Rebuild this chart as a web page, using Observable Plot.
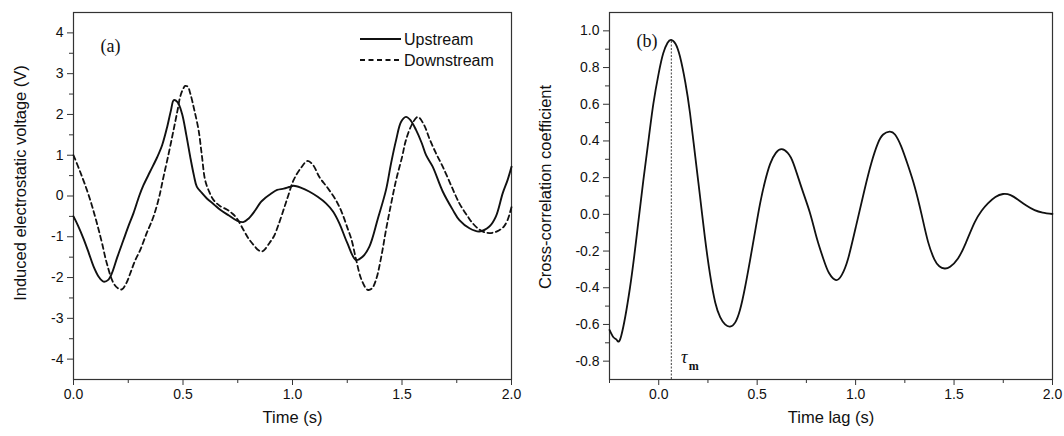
<!DOCTYPE html>
<html><head><meta charset="utf-8">
<script src="https://cdn.jsdelivr.net/npm/d3@7"></script>
<script src="https://cdn.jsdelivr.net/npm/@observablehq/plot@0.6"></script>
<style>
body{margin:0;background:#fff;}
#wrap{position:relative;width:1064px;height:436px;display:flex;}
#legend{position:absolute;left:0;top:0;pointer-events:none;}
</style></head><body>
<div id="wrap"></div>
<script>
// ---- Panel (a): induced electrostatic voltage ----
const upT = [0, 0.02, 0.046, 0.07, 0.091, 0.115, 0.137, 0.16, 0.175, 0.2, 0.228, 0.25, 0.274, 0.3, 0.32, 0.35, 0.382, 0.405, 0.428, 0.445, 0.458, 0.475, 0.495, 0.515, 0.533, 0.55, 0.563, 0.585, 0.609, 0.64, 0.67, 0.71, 0.745, 0.775, 0.8, 0.83, 0.855, 0.875, 0.9, 0.93, 0.96, 0.985, 1.005, 1.04, 1.076, 1.115, 1.153, 1.185, 1.214, 1.25, 1.29, 1.32, 1.351, 1.39, 1.427, 1.45, 1.473, 1.496, 1.518, 1.54, 1.564, 1.59, 1.61, 1.64, 1.686, 1.732, 1.762, 1.808, 1.853, 1.899, 1.929, 1.96, 1.982, 2.0];
const upV = [-0.5, -0.72, -1.05, -1.4, -1.72, -1.98, -2.1, -2.05, -1.9, -1.5, -1.08, -0.75, -0.42, 0.0, 0.27, 0.6, 0.95, 1.25, 1.7, 2.1, 2.35, 2.3, 2.03, 1.5, 0.96, 0.5, 0.23, 0.08, -0.06, -0.2, -0.34, -0.48, -0.6, -0.64, -0.55, -0.35, -0.15, -0.05, 0.05, 0.15, 0.18, 0.22, 0.25, 0.2, 0.11, -0.02, -0.18, -0.38, -0.67, -1.15, -1.57, -1.49, -1.24, -0.55, 0.15, 0.8, 1.37, 1.82, 1.94, 1.85, 1.62, 1.3, 1.0, 0.72, 0.11, -0.34, -0.59, -0.79, -0.87, -0.75, -0.5, 0.07, 0.39, 0.72];
const downT = [0, 0.03, 0.061, 0.085, 0.107, 0.13, 0.152, 0.183, 0.205, 0.221, 0.24, 0.259, 0.28, 0.305, 0.335, 0.365, 0.39, 0.411, 0.435, 0.457, 0.475, 0.487, 0.5, 0.51, 0.522, 0.533, 0.552, 0.571, 0.586, 0.601, 0.62, 0.64, 0.67, 0.70, 0.725, 0.746, 0.777, 0.8, 0.822, 0.845, 0.86, 0.875, 0.895, 0.914, 0.935, 0.959, 0.98, 1.005, 1.04, 1.069, 1.095, 1.122, 1.16, 1.198, 1.225, 1.252, 1.27, 1.29, 1.315, 1.343, 1.362, 1.381, 1.405, 1.427, 1.45, 1.473, 1.5, 1.518, 1.545, 1.572, 1.6, 1.625, 1.655, 1.686, 1.725, 1.762, 1.8, 1.823, 1.855, 1.884, 1.915, 1.944, 1.965, 1.982, 2.0];
const downV = [1.0, 0.6, 0.15, -0.25, -0.67, -1.15, -1.65, -2.14, -2.27, -2.29, -2.15, -1.9, -1.6, -1.32, -0.9, -0.51, -0.05, 0.47, 1.05, 1.62, 2.1, 2.43, 2.62, 2.7, 2.68, 2.52, 2.1, 1.62, 1.0, 0.39, 0.1, -0.1, -0.25, -0.33, -0.43, -0.55, -0.84, -1.05, -1.2, -1.33, -1.36, -1.3, -1.15, -1.0, -0.72, -0.34, 0.0, 0.39, 0.7, 0.86, 0.75, 0.47, 0.2, -0.1, -0.4, -0.8, -1.08, -1.55, -2.05, -2.30, -2.27, -2.06, -1.5, -0.83, -0.2, 0.39, 0.95, 1.37, 1.75, 1.94, 1.75, 1.41, 1.05, 0.72, 0.25, -0.18, -0.5, -0.67, -0.83, -0.90, -0.9, -0.84, -0.75, -0.59, -0.27];
const seriesNames = ["Upstream", "Downstream"];
const xTicksA = [0, 0.5, 1.0, 1.5, 2.0];
const xMinorA = [0.25, 0.75, 1.25, 1.75];
const yTicksA = [-4, -3, -2, -1, 0, 1, 2, 3, 4];
const yMinorA = [-3.5, -2.5, -1.5, -0.5, 0.5, 1.5, 2.5, 3.5];

// ---- Panel (b): cross-correlation ----
const lag = [-0.25, -0.23, -0.212, -0.19, -0.146, -0.11, -0.078, -0.05, -0.027, 0.0, 0.023, 0.045, 0.063, 0.085, 0.108, 0.135, 0.159, 0.185, 0.21, 0.235, 0.261, 0.287, 0.312, 0.337, 0.362, 0.388, 0.413, 0.438, 0.464, 0.49, 0.515, 0.54, 0.566, 0.595, 0.625, 0.655, 0.684, 0.727, 0.769, 0.803, 0.837, 0.865, 0.901, 0.93, 0.961, 1.003, 1.045, 1.08, 1.113, 1.14, 1.172, 1.2, 1.232, 1.265, 1.3, 1.335, 1.368, 1.40, 1.425, 1.452, 1.48, 1.52, 1.56, 1.604, 1.64, 1.672, 1.71, 1.749, 1.787, 1.825, 1.867, 1.909, 1.95, 2.0];
const corr = [-0.63, -0.67, -0.686, -0.66, -0.4, -0.1, 0.187, 0.42, 0.605, 0.77, 0.878, 0.935, 0.951, 0.93, 0.86, 0.72, 0.551, 0.32, 0.096, -0.13, -0.33, -0.48, -0.56, -0.6, -0.612, -0.59, -0.52, -0.4, -0.249, -0.09, 0.06, 0.18, 0.275, 0.335, 0.355, 0.335, 0.278, 0.14, 0.005, -0.13, -0.245, -0.32, -0.358, -0.33, -0.245, -0.06, 0.133, 0.28, 0.387, 0.435, 0.451, 0.435, 0.369, 0.27, 0.151, 0.0, -0.15, -0.245, -0.283, -0.295, -0.285, -0.24, -0.155, -0.045, 0.02, 0.06, 0.095, 0.111, 0.105, 0.08, 0.048, 0.023, 0.01, 0.002];
const tauM = 0.064;
const tauPeak = 0.951;
const xTicksB = [0, 0.5, 1.0, 1.5, 2.0];
const xMinorB = [-0.25, 0.25, 0.75, 1.25, 1.75];
const yTicksB = [-0.8, -0.6, -0.4, -0.2, 0.0, 0.2, 0.4, 0.6, 0.8, 1.0];
const yMinorB = [-0.7, -0.5, -0.3, -0.1, 0.1, 0.3, 0.5, 0.7, 0.9];

const up = upT.map((t, i) => ({t, v: upV[i]}));
const down = downT.map((t, i) => ({t, v: downV[i]}));
const cc = lag.map((l, i) => ({l, r: corr[i]}));

const sans = '"Liberation Sans", Arial, sans-serif';
const serif = '"Liberation Serif", "Times New Roman", serif';
const ink = "#111";
const blank = () => "";

function axes(xMajor, xMinor, yMajor, yMinor, fx, fy) {
  return [
    Plot.axisX(xMajor, {tickSize: 6, tickPadding: 4, tickFormat: fx, label: null, fontSize: 14, stroke: "#333"}),
    Plot.axisX(xMinor, {tickSize: 4, tickFormat: blank, label: null, stroke: "#333"}),
    Plot.axisY(yMajor, {tickSize: 6, tickPadding: 4, tickFormat: fy, label: null, fontSize: 14, stroke: "#333"}),
    Plot.axisY(yMinor, {tickSize: 4, tickFormat: blank, label: null, stroke: "#333"}),
    Plot.frame({stroke: "#333", strokeWidth: 1.2})
  ];
}

const plotA = Plot.plot({
  width: 532, height: 436,
  marginLeft: 73, marginRight: 21, marginTop: 12, marginBottom: 57,
  style: {fontFamily: sans, fontSize: "14px", color: ink, background: "white", overflow: "visible"},
  x: {domain: [0, 2], label: null},
  y: {domain: [-4.5, 4.5], label: null},
  marks: [
    ...axes(xTicksA, xMinorA, yTicksA, yMinorA, d => d.toFixed(1), d => String(d)),
    Plot.line(down, {x: "t", y: "v", curve: "catmull-rom", stroke: ink, strokeWidth: 1.8, strokeDasharray: "5,3.5"}),
    Plot.line(up, {x: "t", y: "v", curve: "catmull-rom", stroke: ink, strokeWidth: 1.9}),
    Plot.text(["(a)"], {frameAnchor: "top-left", dx: 27, dy: 27, text: d => d, fontFamily: serif, fontSize: 18, textAnchor: "start", fill: ink}),
    Plot.text(["Induced electrostatic voltage (V)"], {frameAnchor: "left", rotate: -90, textAnchor: "middle", dx: -53, dy: -13, text: d => d, fontSize: 16.5, fill: ink}),
    Plot.text(["Time (s)"], {frameAnchor: "bottom", dy: 43, text: d => d, fontSize: 16.5, fill: ink})
  ]
});

const plotB = Plot.plot({
  width: 532, height: 436,
  marginLeft: 77, marginRight: 12, marginTop: 12, marginBottom: 57,
  style: {fontFamily: sans, fontSize: "14px", color: ink, background: "white", overflow: "visible"},
  x: {domain: [-0.25, 2], label: null},
  y: {domain: [-0.9, 1.1], label: null},
  marks: [
    ...axes(xTicksB, xMinorB, yTicksB, yMinorB, d => d.toFixed(1), d => d.toFixed(1)),
    Plot.ruleX([tauM], {y1: -0.9, y2: tauPeak, stroke: ink, strokeWidth: 0.8, strokeDasharray: "2,1.5"}),
    Plot.line(cc, {x: "l", y: "r", curve: "natural", stroke: ink, strokeWidth: 1.8}),
    Plot.text([tauM], {x: d => d, y: -0.9, text: () => "τ", dx: 13, dy: -22, fontFamily: serif, fontStyle: "italic", fontSize: 18, fill: ink}),
    Plot.text([tauM], {x: d => d, y: -0.9, text: () => "m", dx: 22.5, dy: -13, fontFamily: serif, fontWeight: "bold", fontSize: 12, fill: ink}),
    Plot.text(["(b)"], {frameAnchor: "top-left", dx: 27, dy: 22, text: d => d, fontFamily: serif, fontSize: 18, textAnchor: "start", fill: ink}),
    Plot.text(["Cross-correlation coefficient"], {frameAnchor: "left", rotate: -90, textAnchor: "middle", dx: -64, dy: -9, text: d => d, fontSize: 16.5, fill: ink}),
    Plot.text(["Time lag (s)"], {frameAnchor: "bottom", dy: 43, text: d => d, fontSize: 16.5, fill: ink})
  ]
});

const wrap = document.getElementById("wrap");
wrap.appendChild(plotA);
wrap.appendChild(plotB);

// legend for panel (a), overlaid inside its frame
const ns = "http://www.w3.org/2000/svg";
const lg = document.createElementNS(ns, "svg");
lg.setAttribute("id", "legend");
lg.setAttribute("width", 532);
lg.setAttribute("height", 80);
const styles = [{dash: null}, {dash: "5,3.5"}];
seriesNames.forEach((name, i) => {
  const y = 39 + i * 21;
  const ln = document.createElementNS(ns, "line");
  ln.setAttribute("x1", 360); ln.setAttribute("x2", 401);
  ln.setAttribute("y1", y); ln.setAttribute("y2", y);
  ln.setAttribute("stroke", ink); ln.setAttribute("stroke-width", 1.9);
  if (styles[i].dash) ln.setAttribute("stroke-dasharray", styles[i].dash);
  lg.appendChild(ln);
  const tx = document.createElementNS(ns, "text");
  tx.setAttribute("x", 404); tx.setAttribute("y", y + 6);
  tx.setAttribute("font-family", sans); tx.setAttribute("font-size", 16);
  tx.setAttribute("fill", ink);
  tx.textContent = name;
  lg.appendChild(tx);
});
wrap.appendChild(lg);
</script>
</body></html>
